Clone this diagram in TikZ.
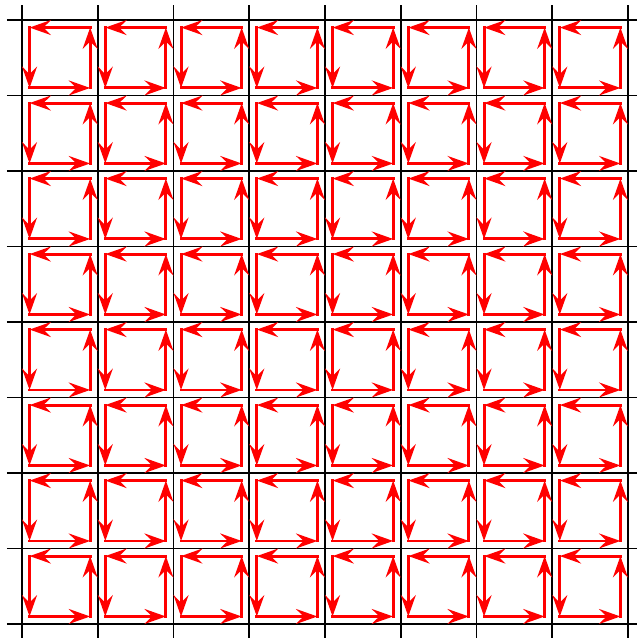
\documentclass[tikz,border=0pt]{standalone}
\usetikzlibrary{arrows.meta}
\begin{document}
\begin{tikzpicture}[x=1cm,y=0.9967cm,
  gridline/.style={line width=0.6pt},
  loopedge/.style={red,line width=1.1pt,line cap=rect,
    -{Stealth[length=8pt,width=5.6pt,inset=2.8pt]}}]
\useasboundingbox (-0.290,-0.185) rectangle (8.106,8.265);
% lattice
\foreach \k in {0,...,8} {
  \draw[gridline] (\k,-0.2) -- (\k,8.2);
  \draw[gridline] (-0.2,\k) -- (8.2,\k);
}
% one anticlockwise loop in every plaquette
\foreach \i in {0,...,7} {
  \foreach \j in {0,...,7} {
    \coordinate (sw) at (\i+0.1,\j+0.1);
    \coordinate (se) at (\i+0.9,\j+0.1);
    \coordinate (ne) at (\i+0.9,\j+0.9);
    \coordinate (nw) at (\i+0.1,\j+0.9);
    \draw[loopedge] (ne) -- (nw);
    \draw[loopedge] (nw) -- (sw);
    \draw[loopedge] (sw) -- (se);
    \draw[loopedge] (se) -- (ne);
  }
}
\end{tikzpicture}
\end{document}
